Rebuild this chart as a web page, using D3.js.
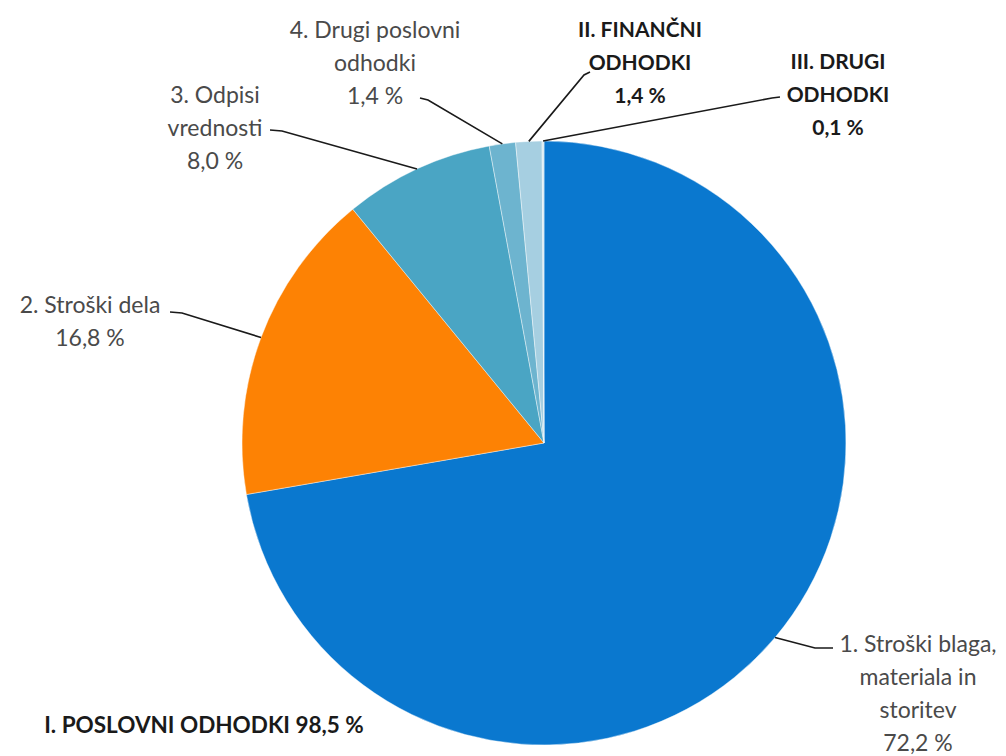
<!DOCTYPE html>
<html>
<head>
<meta charset="utf-8">
<script src="https://cdn.jsdelivr.net/npm/d3@7"></script>
<style>
  html, body { margin: 0; padding: 0; background: #ffffff; }
  svg { display: block; }
</style>
</head>
<body>
<svg id="chart" width="1006" height="756"></svg>
<script>
// ---------- DATA ----------
const categories = [
  "1. Stroški blaga, materiala in storitev",
  "2. Stroški dela",
  "3. Odpisi vrednosti",
  "4. Drugi poslovni odhodki",
  "II. FINANČNI ODHODKI",
  "III. DRUGI ODHODKI"
];
const values = [72.2, 16.8, 8.0, 1.4, 1.4, 0.1];
const labelNameLines = [
  ["1. Stroški blaga,", "materiala in", "storitev"],
  ["2. Stroški dela"],
  ["3. Odpisi", "vrednosti"],
  ["4. Drugi poslovni", "odhodki"],
  ["II. FINANČNI", "ODHODKI"],
  ["III. DRUGI", "ODHODKI"]
];
const boldLabel = [false, false, false, false, true, true];
const groupLabel = "I. POSLOVNI ODHODKI 98,5 %";

// ---------- STYLE / LAYOUT ----------
const colors = ["#0a78cf", "#fd8204", "#4aa5c4", "#6db4cf", "#a6cfe1", "#d3e8f0"];
const cx = 544, cy = 443, R = 302;
const lineH = 33;
// label anchor (center x, first line center y) and leader path points near label
const labelLayout = [
  { x: 918, y: 644, leader: [[833, 648], [815, 648]] },
  { x: 90,  y: 305, leader: [[170, 312], [182, 313]] },
  { x: 215, y: 95,  leader: [[270, 130], [282, 131]] },
  { x: 375, y: 30,  leader: [[420, 98],  [428, 100]] },
  { x: 640, y: 30,  leader: [[590, 72],  [584, 75]] },
  { x: 838, y: 62,  leader: [[780, 97],  [772, 98]] }
];

const fmt = v => d3.format(".1f")(v).replace(".", ",") + " %";

const svg = d3.select("#chart");
const g = svg.append("g").attr("transform", `translate(${cx},${cy})`);

const pie = d3.pie().sort(null).value(d => d).startAngle(0).endAngle(2 * Math.PI);
const arcs = pie(values);
const arc = d3.arc().innerRadius(0).outerRadius(R);
const edgeArc = d3.arc().innerRadius(R).outerRadius(R);

g.selectAll("path.slice")
  .data(arcs)
  .enter().append("path")
  .attr("class", "slice")
  .attr("d", arc)
  .attr("fill", (d, i) => colors[i])
  .attr("stroke", "#ffffff")
  .attr("stroke-width", 0.7)
  .attr("stroke-opacity", 0.6);

// leader lines
const line = d3.line();
arcs.forEach((d, i) => {
  const c = edgeArc.centroid(d);
  const p = [cx + c[0], cy + c[1]];
  const pts = labelLayout[i].leader.concat([p]);
  svg.append("path")
    .attr("d", line(pts))
    .attr("fill", "none")
    .attr("stroke", "#1a1a1a")
    .attr("stroke-width", 1.6);
});

// labels
const fontFam = "Lato, 'Open Sans', sans-serif";
arcs.forEach((d, i) => {
  const L = labelLayout[i];
  const lines = labelNameLines[i].concat([fmt(values[i])]);
  const t = svg.append("text")
    .attr("text-anchor", "middle")
    .attr("font-family", fontFam)
    .attr("font-size", boldLabel[i] ? 21 : 23)
    .attr("font-weight", boldLabel[i] ? 700 : 400)
    .attr("fill", boldLabel[i] ? "#1a1a1a" : "#4a4a4a");
  lines.forEach((s, k) => {
    t.append("tspan")
      .attr("x", L.x)
      .attr("y", L.y + k * lineH)
      .attr("dy", "0.35em")
      .text(s);
  });
});

svg.append("text")
  .attr("x", 204).attr("y", 725).attr("dy", "0.35em")
  .attr("text-anchor", "middle")
  .attr("font-family", fontFam)
  .attr("font-size", 22.5)
  .attr("font-weight", 700)
  .attr("fill", "#1a1a1a")
  .text(groupLabel);
</script>
</body>
</html>
